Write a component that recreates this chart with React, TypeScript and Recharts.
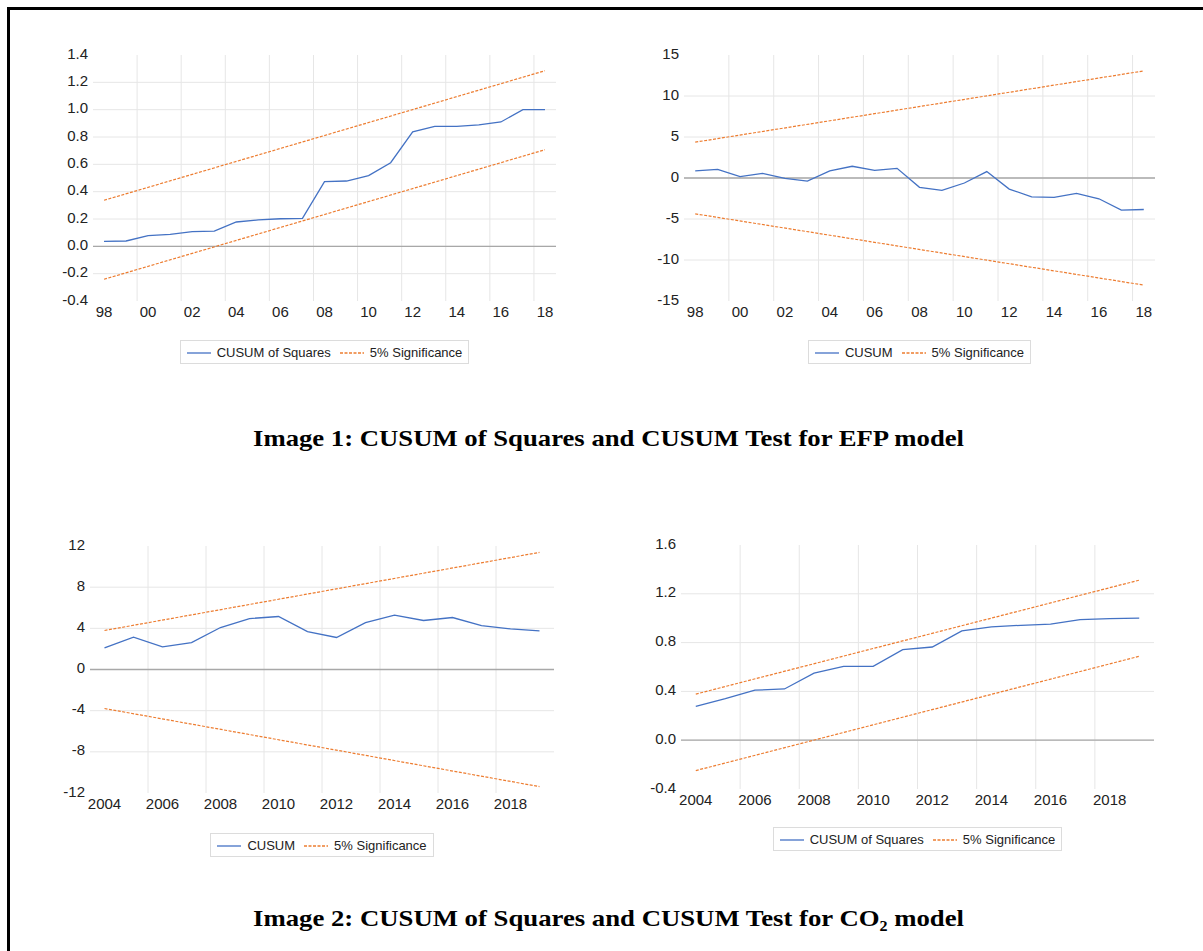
import React from "react";
import {
  LineChart,
  Line,
  XAxis,
  YAxis,
  CartesianGrid,
  ReferenceLine,
  Legend,
} from "recharts";

// ---- data ----
const efpYears = [
  1998, 1999, 2000, 2001, 2002, 2003, 2004, 2005, 2006, 2007, 2008, 2009,
  2010, 2011, 2012, 2013, 2014, 2015, 2016, 2017, 2018,
];
const efpCusumSq = [
  0.037, 0.039, 0.078, 0.088, 0.107, 0.112, 0.178, 0.193, 0.202, 0.205, 0.473,
  0.478, 0.517, 0.612, 0.837, 0.878, 0.878, 0.888, 0.91, 1.0, 1.0,
];
const efpCusumSqUpper = [0.337, 1.285];
const efpCusumSqLower = [-0.241, 0.707];

const efpCusum = [
  0.86, 1.06, 0.16, 0.57, -0.04, -0.37, 0.86, 1.43, 0.94, 1.18, -1.14, -1.51,
  -0.61, 0.78, -1.35, -2.29, -2.37, -1.88, -2.53, -3.92, -3.84,
];
const efpCusumUpper = [4.37, 13.06];
const efpCusumLower = [-4.37, -13.06];

const co2Years = [
  2004, 2005, 2006, 2007, 2008, 2009, 2010, 2011, 2012, 2013, 2014, 2015,
  2016, 2017, 2018, 2019,
];
const co2Cusum = [
  2.1, 3.14, 2.2, 2.62, 4.08, 4.95, 5.15, 3.69, 3.11, 4.56, 5.28, 4.76, 5.05,
  4.27, 3.95, 3.75,
];
const co2CusumUpper = [3.79, 11.38];
const co2CusumLower = [-3.79, -11.38];

const co2CusumSq = [
  0.277, 0.34, 0.41, 0.42, 0.55, 0.605, 0.605, 0.742, 0.764, 0.896, 0.929,
  0.942, 0.951, 0.989, 0.997, 1.0,
];
const co2CusumSqUpper = [0.378, 1.312];
const co2CusumSqLower = [-0.249, 0.688];

// axis ticks and grid
const efpXTicks = [1998, 2000, 2002, 2004, 2006, 2008, 2010, 2012, 2014, 2016, 2018];
const efpXGrid = [1999.5, 2001.5, 2003.5, 2005.5, 2007.5, 2009.5, 2011.5, 2013.5, 2015.5, 2017.5];
const co2XTicks = [2004, 2006, 2008, 2010, 2012, 2014, 2016, 2018];
const co2XGrid = [2005.5, 2007.5, 2009.5, 2011.5, 2013.5, 2015.5, 2017.5];

const ticksSq1 = [-0.4, -0.2, 0, 0.2, 0.4, 0.6, 0.8, 1.0, 1.2, 1.4];
const ticksCusum1 = [-15, -10, -5, 0, 5, 10, 15];
const ticksCusum2 = [-12, -8, -4, 0, 4, 8, 12];
const ticksSq2 = [-0.4, 0, 0.4, 0.8, 1.2, 1.6];

const BLUE = "#4472C4";
const ORANGE = "#ED7D31";
const FONT = '"Liberation Sans", Arial, sans-serif';

type Row = { year: number; value: number; upper?: number; lower?: number };

// bounds are straight lines, so only their end points are given
const buildRows = (years: number[], values: number[], upper: number[], lower: number[]): Row[] =>
  years.map((year, i) => {
    const row: Row = { year, value: values[i] };
    if (i === 0) {
      row.upper = upper[0];
      row.lower = lower[0];
    }
    if (i === years.length - 1) {
      row.upper = upper[1];
      row.lower = lower[1];
    }
    return row;
  });

const LegendBox = (props: any) => {
  const items = (props.payload ?? [])
    .filter((p: any) => p.type !== "none")
    .sort((a: any, b: any) => (a.dataKey === "value" ? -1 : b.dataKey === "value" ? 1 : 0));
  return (
    <div style={{ display: "flex", justifyContent: "center" }}>
      <div
        style={{
          display: "inline-flex",
          alignItems: "center",
          height: 22,
          padding: "0 6px",
          border: "1px solid #dcdcdc",
          fontFamily: FONT,
          fontSize: 13,
          color: "#222",
          whiteSpace: "nowrap",
        }}
      >
        {items.map((it: any, i: number) => (
          <span key={i} style={{ display: "inline-flex", alignItems: "center", marginLeft: i ? 9 : 0 }}>
            <svg width={24} height={6} style={{ marginRight: 6 }}>
              <line
                x1={0}
                y1={4}
                x2={24}
                y2={4}
                stroke={it.color}
                strokeWidth={1.3}
                strokeDasharray={it.payload?.strokeDasharray}
              />
            </svg>
            {it.value}
          </span>
        ))}
      </div>
    </div>
  );
};

const makeYTick = (fmt: (v: number) => string) => (props: any) => (
  <text x={props.x} y={props.y} dy={3.5} textAnchor="end" fill="#222" fontSize={15} fontFamily={FONT}>
    {fmt(props.payload.value)}
  </text>
);

const makeXTick = (fmt: (v: number) => string) => (props: any) => (
  <text x={props.x} y={props.y} dy={11} textAnchor="middle" fill="#222" fontSize={15} fontFamily={FONT}>
    {fmt(props.payload.value)}
  </text>
);

interface PanelProps {
  left: number;
  top: number;
  width: number;
  height: number;
  margin: { top: number; right: number; bottom: number; left: number };
  yWidth: number;
  rows: Row[];
  name: string;
  xDomain: [number, number];
  xTicks: number[];
  xGrid: number[];
  xFormat: (v: number) => string;
  yTicks: number[];
  yFormat: (v: number) => string;
  legendTop: number;
}

function Panel(p: PanelProps) {
  const plotW = p.width - p.margin.left - p.margin.right - p.yWidth;
  return (
    <div style={{ position: "absolute", left: p.left, top: p.top }}>
      <LineChart width={p.width} height={p.height} data={p.rows} margin={p.margin}>
        <CartesianGrid
          stroke="#e6e6e6"
          strokeWidth={1}
          verticalValues={p.xGrid}
          horizontalValues={p.yTicks.slice(1, -1)}
        />
        <XAxis
          dataKey="year"
          type="number"
          domain={p.xDomain}
          ticks={p.xTicks}
          axisLine={false}
          tickLine={false}
          tickSize={0}
          tickMargin={5}
          interval={0}
          tick={makeXTick(p.xFormat)}
        />
        <YAxis
          type="number"
          width={p.yWidth}
          domain={[p.yTicks[0], p.yTicks[p.yTicks.length - 1]]}
          ticks={p.yTicks}
          axisLine={false}
          tickLine={false}
          tickSize={0}
          tickMargin={5}
          interval={0}
          tick={makeYTick(p.yFormat)}
        />
        <ReferenceLine y={0} stroke="#a8a8a8" strokeWidth={1.3} />
        <Line
          dataKey="value"
          name={p.name}
          stroke={BLUE}
          strokeWidth={1.3}
          dot={false}
          isAnimationActive={false}
        />
        <Line
          dataKey="upper"
          name="5% Significance"
          stroke={ORANGE}
          strokeWidth={1.2}
          strokeDasharray="3 1.5"
          connectNulls
          dot={false}
          isAnimationActive={false}
        />
        <Line
          dataKey="lower"
          name="5% Significance"
          stroke={ORANGE}
          strokeWidth={1.2}
          strokeDasharray="3 1.5"
          connectNulls
          dot={false}
          legendType="none"
          isAnimationActive={false}
        />
        <Legend
          layout="horizontal"
          verticalAlign="middle"
          align="center"
          content={<LegendBox />}
          wrapperStyle={{ top: p.legendTop - p.top, left: p.margin.left + p.yWidth, width: plotW, bottom: "auto" }}
        />
      </LineChart>
    </div>
  );
}

const twoDigit = (v: number) => String(v % 100).padStart(2, "0");
const oneDec = (v: number) => v.toFixed(1);
const plain = (v: number) => String(v);

function Caption({ y, text }: { y: number; text: string }) {
  return (
    <svg style={{ position: "absolute", left: 0, top: 0 }} width={1203} height={951}>
      <text
        x={253}
        y={y}
        textLength={711}
        lengthAdjust="spacingAndGlyphs"
        fontFamily='"Liberation Serif", "Times New Roman", serif'
        fontWeight="bold"
        fontSize={24}
        fill="#000"
      >
        {text}
      </text>
    </svg>
  );
}

export default function App() {
  return (
    <div
      style={{
        position: "absolute",
        left: 0,
        top: 0,
        width: 1203,
        height: 951,
        overflow: "hidden",
        background: "#fff",
      }}
    >
      <div
        style={{
          position: "absolute",
          left: 7,
          top: 7,
          width: 1400,
          height: 1200,
          border: "3px solid #000",
        }}
      />
      <Panel
        left={0}
        top={0}
        width={600}
        height={380}
        margin={{ top: 55, right: 44, bottom: 49, left: 0 }}
        yWidth={93}
        rows={buildRows(efpYears, efpCusumSq, efpCusumSqUpper, efpCusumSqLower)}
        name="CUSUM of Squares"
        xDomain={[1997.5, 2018.5]}
        xTicks={efpXTicks}
        xGrid={efpXGrid}
        xFormat={twoDigit}
        yTicks={ticksSq1}
        yFormat={oneDec}
        legendTop={340}
      />
      <Panel
        left={600}
        top={0}
        width={603}
        height={380}
        margin={{ top: 55, right: 48, bottom: 49, left: 0 }}
        yWidth={84}
        rows={buildRows(efpYears, efpCusum, efpCusumUpper, efpCusumLower)}
        name="CUSUM"
        xDomain={[1997.5, 2018.5]}
        xTicks={efpXTicks}
        xGrid={efpXGrid}
        xFormat={twoDigit}
        yTicks={ticksCusum1}
        yFormat={plain}
        legendTop={340}
      />
      <Panel
        left={0}
        top={500}
        width={600}
        height={380}
        margin={{ top: 46, right: 46, bottom: 57, left: 0 }}
        yWidth={90}
        rows={buildRows(co2Years, co2Cusum, co2CusumUpper, co2CusumLower)}
        name="CUSUM"
        xDomain={[2003.5, 2019.5]}
        xTicks={co2XTicks}
        xGrid={co2XGrid}
        xFormat={plain}
        yTicks={ticksCusum2}
        yFormat={plain}
        legendTop={833}
      />
      <Panel
        left={600}
        top={500}
        width={603}
        height={380}
        margin={{ top: 45, right: 49, bottom: 61, left: 0 }}
        yWidth={81}
        rows={buildRows(co2Years, co2CusumSq, co2CusumSqUpper, co2CusumSqLower)}
        name="CUSUM of Squares"
        xDomain={[2003.5, 2019.5]}
        xTicks={co2XTicks}
        xGrid={co2XGrid}
        xFormat={plain}
        yTicks={ticksSq2}
        yFormat={oneDec}
        legendTop={827}
      />
      <Caption y={446} text="Image 1: CUSUM of Squares and CUSUM Test for EFP model" />
      <Caption y={926} text="Image 2: CUSUM of Squares and CUSUM Test for CO₂ model" />
    </div>
  );
}
